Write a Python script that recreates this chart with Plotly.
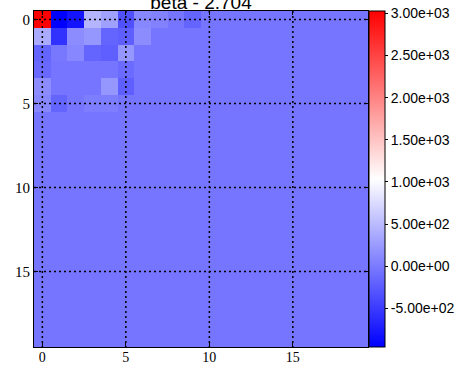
import plotly.graph_objects as go

# 20x20 coefficient matrix (rows top to bottom)
bg = -40
row_0 = [3027, -957, -800, 449, 293, -332, 97, 60, bg, -176] + [bg] * 10
row_1 = [371, -566, 138, 215, -176, -215, 138] + [bg] * 13
row_2 = [-176, -20, 97, -176, -215, 215] + [bg] * 14
row_3 = [-135, bg, bg, bg, bg, -120] + [bg] * 14
row_4 = [138, bg, bg, bg, 215, -215] + [bg] * 14
row_5 = [100, -176, bg, 20, 20, bg] + [bg] * 14
rows_rest = [[bg] * 20 for _ in range(14)]
values = [row_0, row_1, row_2, row_3, row_4, row_5] + rows_rest

grid_ticks = [0, 5, 10, 15]
cbar_ticks = [-500, 0, 500, 1000, 1500, 2000, 2500, 3000]
cbar_labels = [f"{v:.2e}" for v in cbar_ticks]
title_text = "beta - 2.704"

flat = [v for r in values for v in r]
zmin, zmax = min(flat), max(flat)

bwr = [[0.0, "rgb(0,0,255)"], [0.5, "rgb(255,255,255)"], [1.0, "rgb(255,0,0)"]]

fig = go.Figure(
    go.Heatmap(
        z=values,
        x=list(range(20)),
        y=list(range(20)),
        colorscale=bwr,
        zmin=zmin,
        zmax=zmax,
        colorbar=dict(
            x=1.003,
            xanchor="left",
            xpad=0,
            ypad=0,
            y=0.5,
            len=1.0,
            lenmode="fraction",
            thickness=16,
            thicknessmode="pixels",
            outlinecolor="black",
            outlinewidth=1,
            tickvals=cbar_ticks,
            ticktext=cbar_labels,
            ticks="outside",
            ticklen=3,
            tickcolor="black",
            tickfont=dict(family="Liberation Sans", size=14, color="black"),
        ),
    )
)

# dotted grid drawn over the image
for t in grid_ticks:
    fig.add_shape(type="line", x0=t, x1=t, y0=-0.5, y1=19.5, xref="x", yref="y",
                  line=dict(color="black", width=1.5, dash="2px,3px"), layer="above")
    fig.add_shape(type="line", x0=-0.5, x1=19.5, y0=t, y1=t, xref="x", yref="y",
                  line=dict(color="black", width=1.5, dash="2px,3px"), layer="above")

axis_common = dict(
    tickvals=grid_ticks,
    ticks="inside",
    ticklen=4,
    tickcolor="black",
    showline=True,
    linecolor="black",
    linewidth=1,
    mirror="ticks",
    showgrid=False,
    zeroline=False,
    automargin=False,
    layer="above traces",
)

fig.update_layout(
    width=467,
    height=366,
    margin=dict(l=34, r=99, t=11, b=19, autoexpand=False),
    paper_bgcolor="white",
    plot_bgcolor="white",
    title=dict(
        text=title_text,
        x=0.5, xref="paper", xanchor="center",
        y=1 - 9 / 366, yref="container", yanchor="bottom",
        font=dict(family="Liberation Sans", size=19, color="black"),
    ),
    xaxis=dict(range=[-0.5, 19.5], ticklabelstandoff=-3,
               tickfont=dict(family="Liberation Serif", size=14, color="black"),
               **axis_common),
    yaxis=dict(range=[19.5, -0.5],
               tickfont=dict(family="Liberation Serif", size=15, color="black"),
               **axis_common),
)

fig.write_html("out.html")
